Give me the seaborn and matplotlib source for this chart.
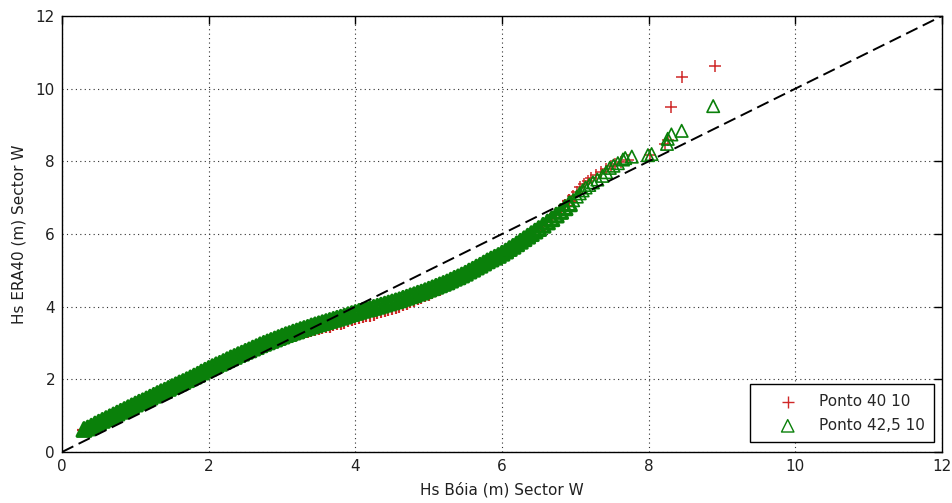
import matplotlib
matplotlib.use("Agg")
import matplotlib.pyplot as plt
import seaborn as sns
import pandas as pd

# ---- data (QQ plot, Hs buoy vs ERA40) ----
hs_boia_bulk = [0.30, 0.35, 0.40, 0.45, 0.50, 0.55, 0.60, 0.65, 0.70, 0.75,
                0.80, 0.85, 0.90, 0.95, 1.00, 1.05, 1.10, 1.15, 1.20, 1.25,
                1.30, 1.35, 1.40, 1.45, 1.50, 1.55, 1.60, 1.65, 1.70, 1.75,
                1.80, 1.85, 1.90, 1.95, 2.00, 2.05, 2.10, 2.15, 2.20, 2.25,
                2.30, 2.35, 2.40, 2.45, 2.50, 2.55, 2.60, 2.65, 2.70, 2.75,
                2.80, 2.85, 2.90, 2.95, 3.00, 3.05, 3.10, 3.15, 3.20, 3.25,
                3.30, 3.35, 3.40, 3.45, 3.50, 3.55, 3.60, 3.65, 3.70, 3.75,
                3.80, 3.85, 3.90, 3.95, 4.00, 4.05, 4.10, 4.15, 4.20, 4.25,
                4.30, 4.35, 4.40, 4.45, 4.50, 4.55, 4.60, 4.65, 4.70, 4.75,
                4.80, 4.85, 4.90, 4.95, 5.00, 5.05, 5.10, 5.15, 5.20, 5.25,
                5.30, 5.35, 5.40, 5.45, 5.50, 5.55, 5.60, 5.65, 5.70, 5.75,
                5.80, 5.85, 5.90, 5.95, 6.00, 6.05, 6.10, 6.15, 6.20, 6.25,
                6.30, 6.35, 6.40, 6.45, 6.50]

era_40_10_bulk = [0.60, 0.64, 0.69, 0.75, 0.80, 0.85, 0.90, 0.95, 1.00, 1.05,
                  1.10, 1.15, 1.20, 1.25, 1.30, 1.35, 1.39, 1.44, 1.49, 1.54,
                  1.59, 1.64, 1.68, 1.73, 1.78, 1.83, 1.88, 1.92, 1.97, 2.02,
                  2.07, 2.12, 2.18, 2.23, 2.28, 2.33, 2.38, 2.42, 2.47, 2.52,
                  2.57, 2.61, 2.65, 2.69, 2.74, 2.78, 2.82, 2.86, 2.90, 2.94,
                  2.97, 3.01, 3.04, 3.08, 3.11, 3.14, 3.17, 3.21, 3.24, 3.27,
                  3.29, 3.32, 3.35, 3.38, 3.41, 3.43, 3.46, 3.48, 3.51, 3.54,
                  3.56, 3.59, 3.62, 3.65, 3.68, 3.71, 3.73, 3.76, 3.78, 3.81,
                  3.84, 3.87, 3.90, 3.93, 3.96, 3.99, 4.03, 4.07, 4.11, 4.15,
                  4.19, 4.23, 4.27, 4.31, 4.36, 4.41, 4.46, 4.50, 4.55, 4.60,
                  4.65, 4.70, 4.76, 4.81, 4.87, 4.93, 4.98, 5.04, 5.10, 5.15,
                  5.21, 5.27, 5.33, 5.39, 5.45, 5.51, 5.57, 5.63, 5.70, 5.77,
                  5.84, 5.91, 5.98, 6.05, 6.12]

era_425_10_bulk = [0.62, 0.66, 0.71, 0.77, 0.82, 0.87, 0.92, 0.97, 1.02, 1.07,
                   1.12, 1.17, 1.22, 1.27, 1.32, 1.37, 1.41, 1.46, 1.51, 1.56,
                   1.61, 1.66, 1.70, 1.75, 1.80, 1.85, 1.90, 1.94, 1.99, 2.04,
                   2.09, 2.14, 2.20, 2.25, 2.30, 2.35, 2.40, 2.44, 2.49, 2.54,
                   2.59, 2.63, 2.68, 2.72, 2.77, 2.81, 2.86, 2.90, 2.95, 2.99,
                   3.03, 3.07, 3.11, 3.15, 3.19, 3.23, 3.26, 3.30, 3.33, 3.37,
                   3.40, 3.43, 3.47, 3.50, 3.53, 3.56, 3.59, 3.62, 3.65, 3.68,
                   3.71, 3.74, 3.78, 3.81, 3.84, 3.87, 3.90, 3.93, 3.95, 3.98,
                   4.01, 4.04, 4.07, 4.10, 4.13, 4.16, 4.19, 4.23, 4.26, 4.30,
                   4.33, 4.37, 4.40, 4.44, 4.48, 4.52, 4.56, 4.60, 4.64, 4.68,
                   4.73, 4.78, 4.82, 4.87, 4.92, 4.98, 5.03, 5.09, 5.14, 5.20,
                   5.26, 5.31, 5.36, 5.41, 5.47, 5.53, 5.60, 5.66, 5.73, 5.80,
                   5.87, 5.94, 6.01, 6.08, 6.15]

# upper tails (individual quantiles)
boia_tail_40_10 = [6.56, 6.62, 6.68, 6.74, 6.80, 6.86, 6.92, 6.97, 7.02, 7.07,
                   7.12, 7.17, 7.22, 7.28, 7.35, 7.42, 7.48, 7.54, 7.62, 7.72,
                   8.02, 8.22, 8.27, 8.31, 8.45, 8.90]
era_tail_40_10 = [6.22, 6.32, 6.43, 6.54, 6.66, 6.78, 6.92, 7.05, 7.16, 7.28,
                  7.38, 7.46, 7.55, 7.62, 7.72, 7.80, 7.88, 7.93, 7.98, 8.05,
                  8.17, 8.47, 8.60, 9.50, 10.31, 10.62]

boia_tail_425_10 = [6.56, 6.62, 6.68, 6.74, 6.80, 6.86, 6.92, 6.97, 7.02, 7.06,
                    7.10, 7.14, 7.19, 7.24, 7.30, 7.37, 7.42, 7.47, 7.52, 7.58,
                    7.65, 7.68, 7.77, 7.99, 8.04, 8.25, 8.26, 8.31, 8.45, 8.88]
era_tail_425_10 = [6.24, 6.33, 6.42, 6.52, 6.62, 6.72, 6.83, 6.93, 7.03, 7.12,
                   7.20, 7.28, 7.35, 7.42, 7.50, 7.60, 7.70, 7.82, 7.88, 7.95,
                   8.05, 8.09, 8.13, 8.17, 8.20, 8.48, 8.62, 8.74, 8.84, 9.52]

diag = [0, 12]
ticks = [0, 2, 4, 6, 8, 10, 12]
labels = ["Ponto 40 10", "Ponto 42,5 10"]

df_red = pd.DataFrame({"x": hs_boia_bulk + boia_tail_40_10,
                       "y": era_40_10_bulk + era_tail_40_10})
df_green = pd.DataFrame({"x": hs_boia_bulk + boia_tail_425_10,
                         "y": era_425_10_bulk + era_tail_425_10})
df_diag = pd.DataFrame({"x": diag, "y": diag})

# dense part of each QQ curve (overlapping markers) vs sparse upper tail
dense_limit = 6.95
df_red_dense = df_red[df_red["x"] < dense_limit]
df_red_sparse = df_red[df_red["x"] >= dense_limit]
df_green_dense = df_green[df_green["x"] < dense_limit]
df_green_sparse = df_green[df_green["x"] >= dense_limit]

# ---- plotting ----
sns.set_theme(style="white")
plt.rcParams["font.family"] = ["DejaVu Sans"]

fig = plt.figure(figsize=(9.53, 5.03), dpi=100)
ax = fig.add_axes([62 / 953, 51 / 503, 880 / 953, 436 / 503])

red = "#d02828"
green = "#0a800a"

# red series (drawn first, underneath)
sns.scatterplot(data=df_red_dense, x="x", y="y", ax=ax, marker="+", s=90,
                color=red, linewidth=1.6, zorder=3)
sns.scatterplot(data=df_red_sparse, x="x", y="y", ax=ax, marker="+", s=80,
                color=red, linewidth=1.1, label=labels[0], zorder=3)
# green series on top
sns.scatterplot(data=df_green_dense, x="x", y="y", ax=ax, marker="^", s=95,
                facecolors="none", edgecolor=green, linewidth=2.4, zorder=4)
sns.scatterplot(data=df_green_sparse, x="x", y="y", ax=ax, marker="^", s=80,
                facecolors="none", edgecolor=green, linewidth=1.2,
                label=labels[1], zorder=4)
sns.lineplot(data=df_diag, x="x", y="y", ax=ax, color="black",
             linestyle=(0, (6.5, 3)), linewidth=1.4, zorder=5, legend=False)

ax.set_xlim(0, 12)
ax.set_ylim(0, 12)
ax.set_xticks(ticks)
ax.set_yticks(ticks)
ax.set_xticklabels([str(t) for t in ticks])
ax.set_yticklabels([str(t) for t in ticks])

ax.grid(True, linestyle=(0, (1, 3)), color="#303030", linewidth=0.8)
ax.set_axisbelow(True)
for sp in ax.spines.values():
    sp.set_color("black")
    sp.set_linewidth(1.0)
    sp.set_visible(True)

ax.tick_params(direction="in", length=6, width=1, top=True, right=True,
               labelsize=11, colors="black", pad=5)
for lab in ax.get_xticklabels() + ax.get_yticklabels():
    lab.set_color("#202020")

ax.set_xlabel("Hs Bóia (m) Sector W", fontsize=11, color="#202020", labelpad=6)
ax.set_ylabel("Hs ERA40 (m) Sector W", fontsize=11, color="#202020", labelpad=7)

leg = ax.legend(loc="lower right", bbox_to_anchor=(0.991, 0.023),
                fontsize=11, frameon=True, fancybox=False, edgecolor="black",
                framealpha=1, borderpad=0.6, labelspacing=0.6,
                handlelength=3.7, handletextpad=0.2, borderaxespad=0)
leg.get_frame().set_linewidth(1.0)
for h in leg.legend_handles:
    h.set_linewidth(1.0)

fig.savefig("out.png", dpi=100)
